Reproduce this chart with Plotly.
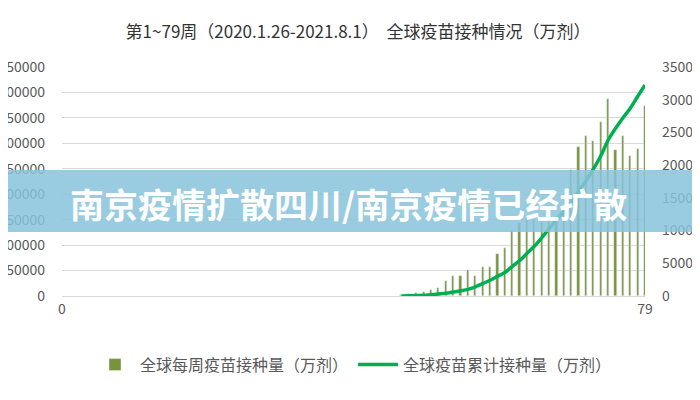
import plotly.graph_objects as go

bar_weeks = list(range(46, 80))
weekly = [1500, 3000, 5000, 8500, 11800, 15100, 29500, 39400, 39400, 51200, 39400, 57700, 57700,
          82700, 95100, 128600, 144400, 152900, 149600, 146300, 162700, 143000, 162700,
          248000, 292700, 313600, 305100, 341900, 387800, 286100, 313600, 274300, 289400, 372700]
line_weeks = list(range(46, 80))
cumulative = [0, 300, 700, 1000, 2000, 3000, 4100, 6000, 8000, 10200, 14000, 19000, 24000, 30000,
              36000, 45000, 54000, 65000, 76000, 89000, 103000, 116000, 130000, 143000, 160000,
              176000, 194000, 214000, 238000, 256000, 272000, 287000, 305000, 322600]
left_ticks = list(range(0, 450001, 50000))
right_ticks = list(range(0, 350001, 50000))

fig = go.Figure()
fig.add_trace(go.Bar(x=bar_weeks, y=weekly, width=0.3, marker_color="#77933c",
                     name="全球每周疫苗接种量（万剂）"))
fig.add_trace(go.Scatter(x=line_weeks, y=cumulative, mode="lines", yaxis="y2",
                         line=dict(color="#00b050", width=3.5, shape="spline"),
                         name="全球疫苗累计接种量（万剂）"))
fig.update_layout(
    width=700, height=400, paper_bgcolor="white", plot_bgcolor="white",
    margin=dict(l=54, r=63, t=59, b=112, autoexpand=False),
    font=dict(family="Noto Sans CJK SC", color="#595959", size=14),
    title=dict(text="第1~79周（2020.1.26-2021.8.1）  全球疫苗接种情况（万剂）", x=0.5, y=0.955,
               xanchor="center", font=dict(size=17, color="#333333")),
    xaxis=dict(range=[0, 79], tickvals=[0, 79], showgrid=False, showline=True,
               linecolor="#d9d9d9", ticks="", automargin=False),
    yaxis=dict(range=[0, 450000], tickvals=left_ticks, tickformat="d", showgrid=True,
               gridcolor="#d9d9d9", zeroline=False, automargin=False, ticklabelstandoff=16),
    yaxis2=dict(range=[0, 350000], tickvals=right_ticks, tickformat="d", overlaying="y",
                side="right", showgrid=False, zeroline=False, automargin=False,
                ticklabelstandoff=16),
    legend=dict(orientation="h", x=0.5, xanchor="center", y=-0.3, yanchor="middle",
                font=dict(size=16, color="#595959"), itemwidth=40),
    bargap=0,
    shapes=[dict(type="rect", xref="paper", yref="paper", x0=-0.2, x1=1.2,
                 y0=(296-232)/229, y1=(296-170)/229, fillcolor="rgba(135,195,220,0.85)",
                 line_width=0, layer="above")],
    annotations=[dict(text="<b>南京疫情扩散四川/南京疫情已经扩散</b>", xref="paper", yref="paper",
                      x=(348-62)/583, y=(296-203)/229, showarrow=False,
                      font=dict(size=34, color="white", family="Noto Sans CJK SC"))],
)
fig.write_html("out.html")
